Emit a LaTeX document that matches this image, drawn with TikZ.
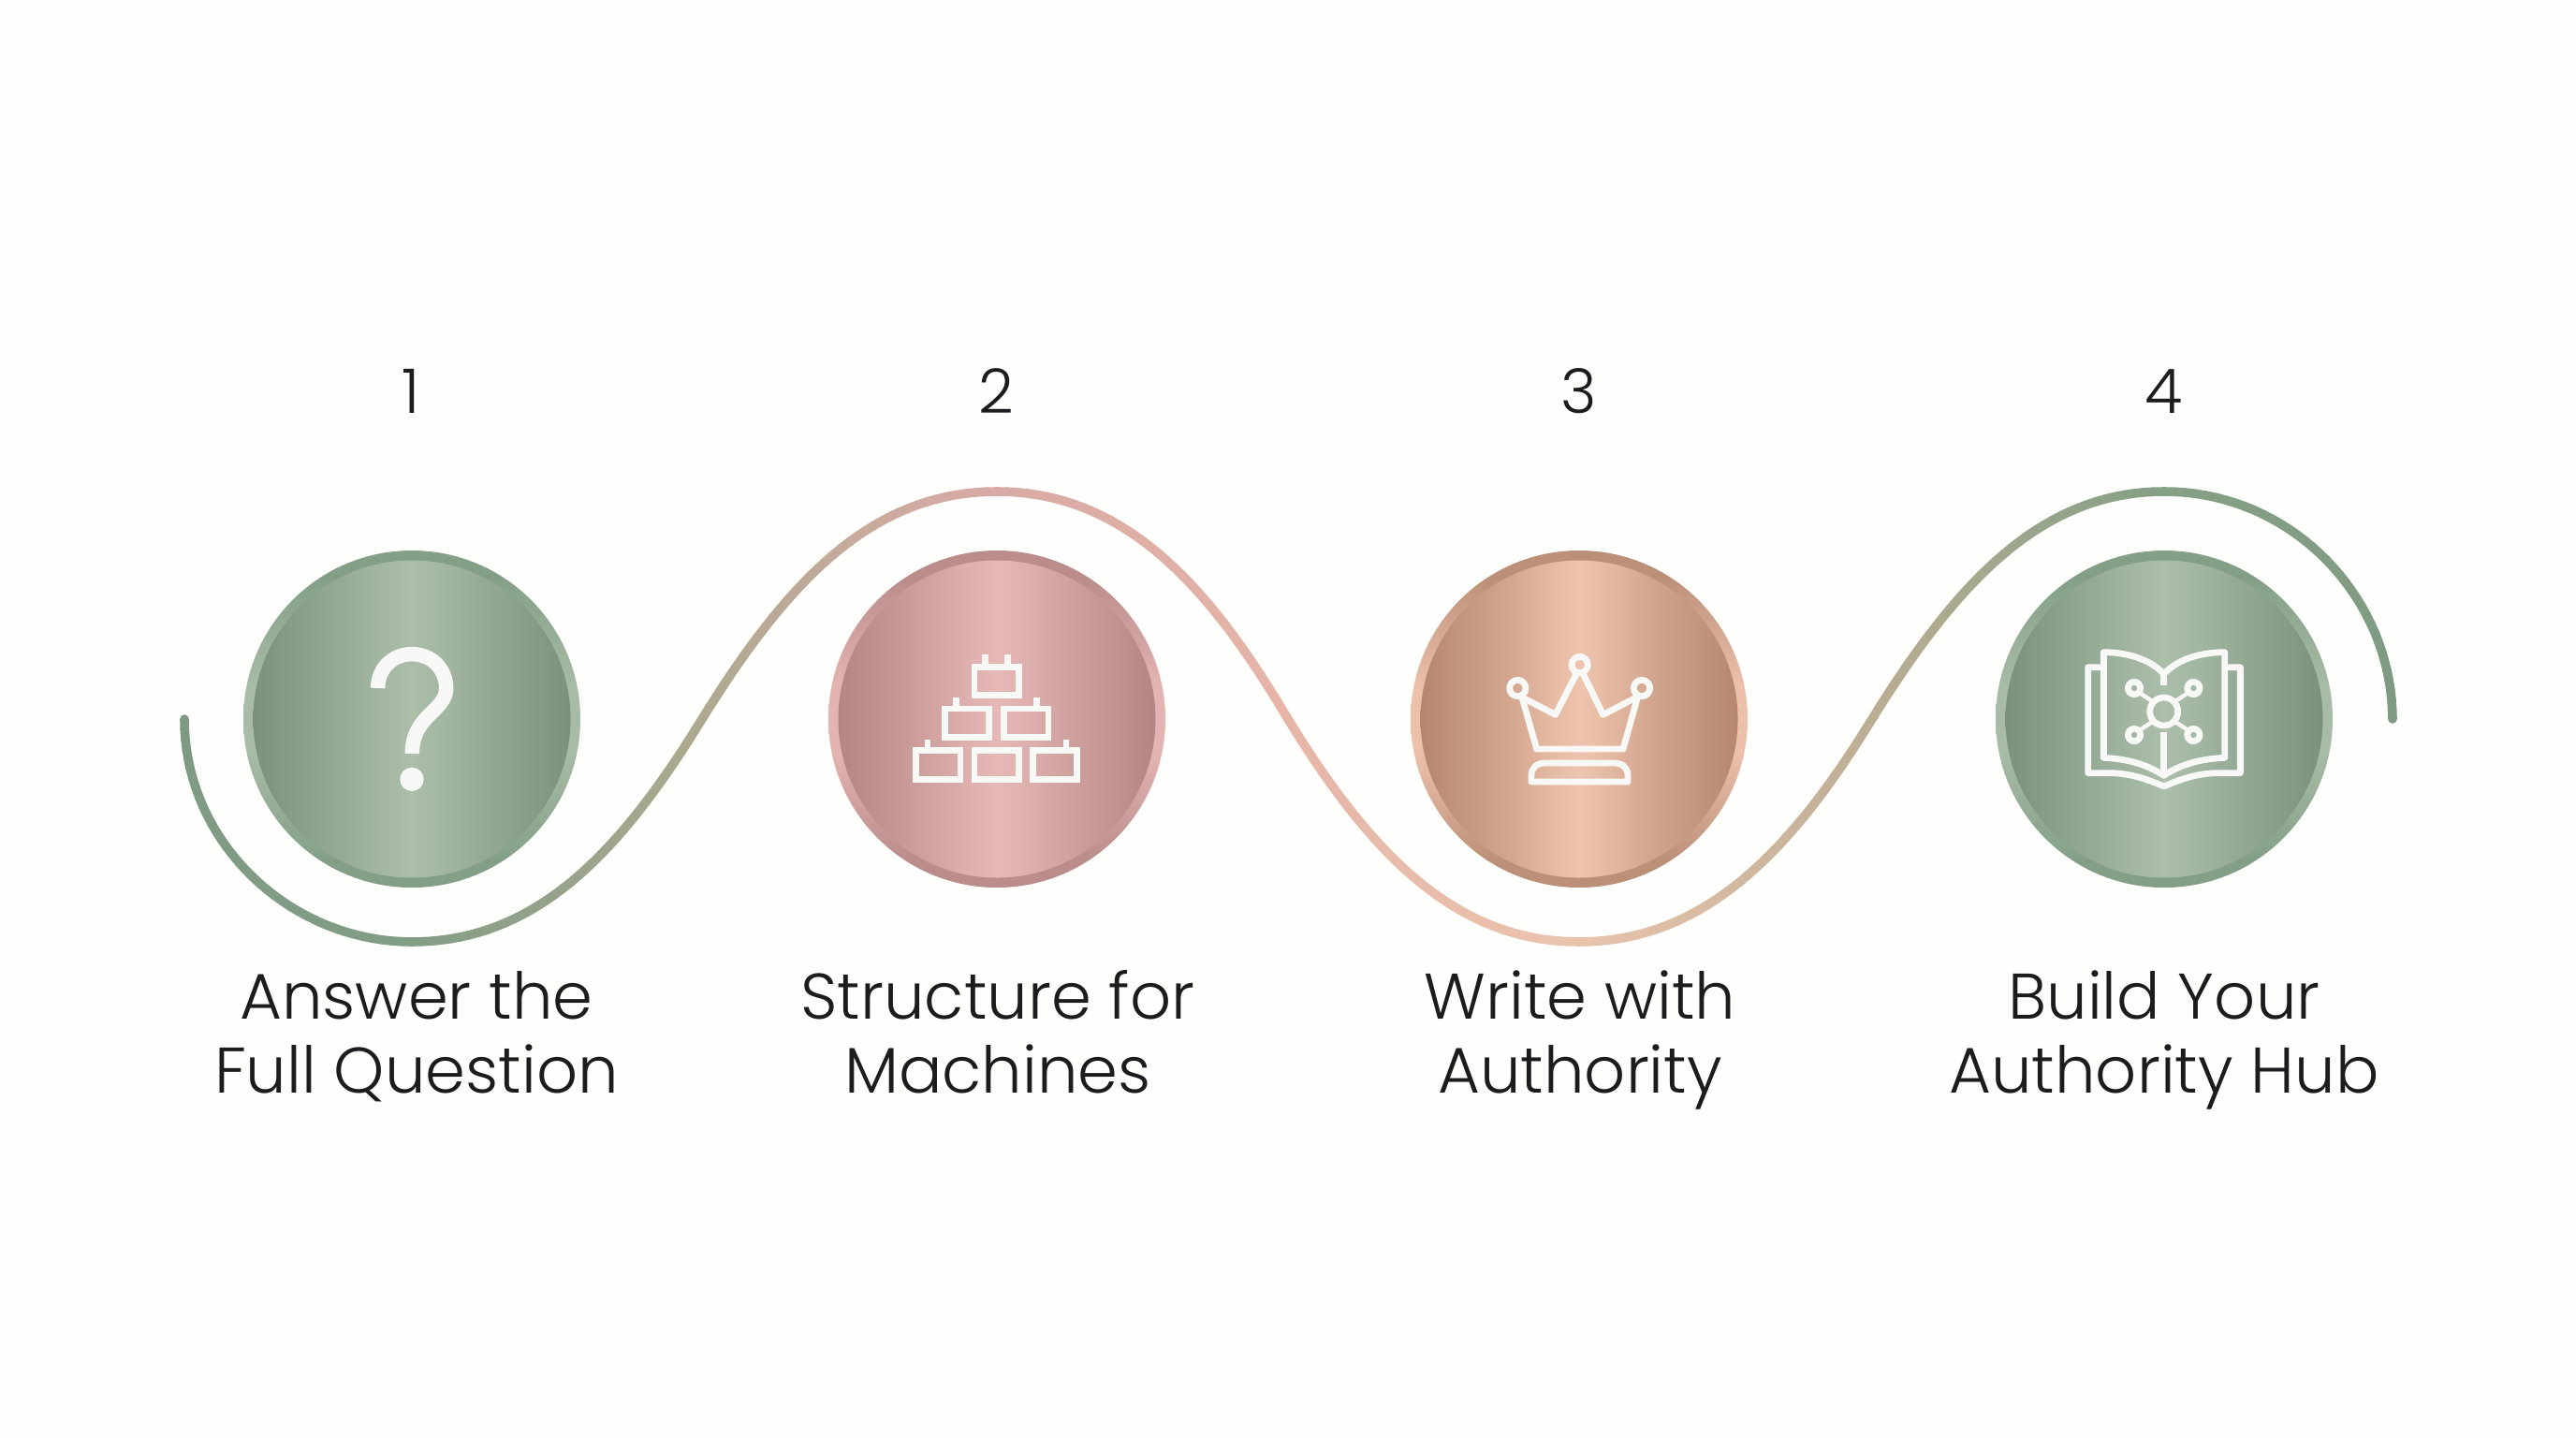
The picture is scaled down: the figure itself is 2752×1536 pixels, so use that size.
\documentclass[tikz,border=0pt]{standalone}
\usepackage{fontspec}
\setmainfont{Poppins}[UprightFont=* Light]
\definecolor{bgpaper}{HTML}{FEFEFC}
\definecolor{inkc}{HTML}{1C1C1E}
\definecolor{iconw}{HTML}{F8F8F6}
\newcommand\defmetal[6]{%
  \definecolor{#1E}{HTML}{#2}\definecolor{#1M}{HTML}{#3}\definecolor{#1C}{HTML}{#4}%
  \definecolor{#1D}{HTML}{#5}\definecolor{#1L}{HTML}{#6}%
  \pgfdeclarehorizontalshading{#1Body}{100bp}{color(0bp)=(#1E); color(25bp)=(#1E); color(39bp)=(#1M); color(46bp)=(#1C!70!#1M); color(50bp)=(#1C); color(54bp)=(#1C!70!#1M); color(61bp)=(#1M); color(75bp)=(#1E); color(100bp)=(#1E)}%
  \pgfdeclareverticalshading{#1Ring}{100bp}{color(0bp)=(#1D); color(29bp)=(#1D); color(45bp)=(#1L); color(55bp)=(#1L); color(71bp)=(#1D); color(100bp)=(#1D)}%
}
\defmetal{sagem}{7A927C}{96AB96}{AABEA9}{83A086}{A7BBA6}
\defmetal{pinkm}{B58583}{CFA19F}{E6B8B5}{BA8C8A}{E3B4B1}
\defmetal{peachm}{B5876F}{D3A68F}{EEC4AE}{BC8F79}{ECC1AB}
\definecolor{wa}{HTML}{7E9A82}
\definecolor{wb}{HTML}{829D86}
\definecolor{wc}{HTML}{ADA98F}
\definecolor{wd}{HTML}{D8AAA5}
\definecolor{we}{HTML}{E6B5A8}
\definecolor{wf}{HTML}{EAC3AD}
\definecolor{wg}{HTML}{BCAE94}
\definecolor{wh}{HTML}{85A085}
\def\pxu{0.02cm}
\newcommand\wavepiece[8]{%
  % #1-#8 are the four control points, colours are taken from \wcA \wcB
  \foreach \i in {1,...,36}{%
    \pgfmathsetmacro\ta{(\i-1)/36}\pgfmathsetmacro\tb{\i/36}%
    \pgfmathsetmacro\ua{1-\ta}\pgfmathsetmacro\ub{1-\tb}%
    \pgfmathsetmacro\xa{\ua*\ua*\ua*#1+3*\ua*\ua*\ta*#3+3*\ua*\ta*\ta*#5+\ta*\ta*\ta*#7}%
    \pgfmathsetmacro\ya{\ua*\ua*\ua*#2+3*\ua*\ua*\ta*#4+3*\ua*\ta*\ta*#6+\ta*\ta*\ta*#8}%
    \pgfmathsetmacro\xb{\ub*\ub*\ub*#1+3*\ub*\ub*\tb*#3+3*\ub*\tb*\tb*#5+\tb*\tb*\tb*#7}%
    \pgfmathsetmacro\yb{\ub*\ub*\ub*#2+3*\ub*\ub*\tb*#4+3*\ub*\tb*\tb*#6+\tb*\tb*\tb*#8}%
    \pgfmathsetmacro\pct{100*\ub}%
    \draw[wavestroke,color={\wcA!\pct!\wcB}] (\xa,\ya) -- (\xb,\yb);
  }%
}
\newcommand\brickrect[4]{\draw[iconline,line width=6.8*\pxu,line join=miter] (#1+10,#2+10) rectangle (#3-10,#4-10);}
\newcommand\bricktab[3]{\fill[iconw] (#1,#2) rectangle (#1+20,#3);}
\tikzset{
  wavestroke/.style={line width=9.6*\pxu,line cap=round},
  ringdisc/.style={circle,inner sep=0pt,minimum size=360*\pxu,shade},
  bodydisc/.style={circle,inner sep=0pt,minimum size=339*\pxu,shade},
  iconline/.style={draw=iconw,line width=6.8*\pxu,line join=round,line cap=round},
  numlabel/.style={text=inkc,font=\fontsize{37.4}{44.8}\selectfont,anchor=base},
  steplabel/.style={text=inkc,font=\fontsize{39.2}{44.8}\selectfont,align=center,anchor=base},
}
\begin{document}
\begin{tikzpicture}[x=0.02cm,y=-0.02cm]
\useasboundingbox (0,0) rectangle (2752,1536);
\fill[bgpaper] (0,0) rectangle (2752,1536);

% wave
\def\wcA{wa}\def\wcB{wb}\wavepiece{197}{768}{197}{900}{310}{1006}{440}{1006}
\def\wcA{wb}\def\wcB{wc}\wavepiece{440}{1006}{570}{1006}{660}{915}{750}{768}
\def\wcA{wc}\def\wcB{wd}\wavepiece{750}{768}{840}{623}{930}{525}{1065}{525}
\def\wcA{wd}\def\wcB{we}\wavepiece{1065}{525}{1200}{525}{1290}{623}{1376}{768}
\def\wcA{we}\def\wcB{wf}\wavepiece{1376}{768}{1466}{915}{1557}{1006}{1687}{1006}
\def\wcA{wf}\def\wcB{wg}\wavepiece{1687}{1006}{1817}{1006}{1910}{915}{2000}{768}
\def\wcA{wg}\def\wcB{wh}\wavepiece{2000}{768}{2090}{623}{2180}{525}{2312}{525}
\def\wcA{wh}\def\wcB{wa}\wavepiece{2312}{525}{2450}{525}{2556}{640}{2556}{768}

% discs
\node[ringdisc,shading=sagemRing] (r1) at (440,768) {};
\node[bodydisc,shading=sagemBody] (c1) at (440,768) {};
\node[ringdisc,shading=pinkmRing] (r2) at (1065,768) {};
\node[bodydisc,shading=pinkmBody] (c2) at (1065,768) {};
\node[ringdisc,shading=peachmRing] (r3) at (1687,768) {};
\node[bodydisc,shading=peachmBody] (c3) at (1687,768) {};
\node[ringdisc,shading=sagemRing] (r4) at (2312,768) {};
\node[bodydisc,shading=sagemBody] (c4) at (2312,768) {};

% numbers
\node[numlabel] (n1) at (439,441) {1};
\node[numlabel] (n2) at (1064,441) {2};
\node[numlabel] (n3) at (1687,441) {3};
\node[numlabel] (n4) at (2312,441) {4};

% labels
\node[steplabel] (t1) at (445,1167) {Answer the\\Full Question};
\node[steplabel] (t2) at (1066,1167) {Structure for\\Machines};
\node[steplabel] (t3) at (1688,1167) {Write with\\Authority};
\node[steplabel] (t4) at (2312,1167) {Build Your\\Authority Hub};

% icon 1: question mark
\begin{scope}[shift={(230,560)},scale=0.33333]
  \draw[iconw,line width=15.5*\pxu,line cap=butt]
    (521,525) .. controls (521,460) and (570,416) .. (630,416)
    .. controls (695,416) and (740,465) .. (740,525)
    .. controls (740,600) and (631,610) .. (631,735);
  \fill[iconw] (630,817) circle[radius=38];
\end{scope}

% icon 2: pyramid of bricks
\begin{scope}[shift={(860,570)},scale=0.33333]
  \brickrect{533}{417}{695}{527}
  \bricktab{567}{388}{417}\bricktab{640}{388}{417}
  \brickrect{438}{551}{600}{662}
  \bricktab{475}{525}{551}
  \brickrect{627}{551}{790}{662}
  \bricktab{733}{525}{551}
  \brickrect{346}{685}{508}{797}
  \bricktab{383}{660}{685}
  \brickrect{533}{685}{695}{797}
  \brickrect{720}{685}{882}{797}
  \bricktab{827}{660}{685}
\end{scope}

% icon 3: crown
\begin{scope}[shift={(1490,570)},scale=0.33333]
  \draw[iconline] (593,420) circle[radius=26];
  \draw[iconline] (394,495) circle[radius=26];
  \draw[iconline] (792,495) circle[radius=26];
  \draw[iconline] (408,525) -- (455,690) -- (732,690) -- (778,525);
  \draw[iconline] (415,528) -- (515,580) -- (582,450);
  \draw[iconline] (604,450) -- (668,580) -- (768,528);
  \draw[iconline] (438,795) -- (438,775) .. controls (438,750) and (455,735) .. (482,735)
    -- (703,735) .. controls (730,735) and (747,750) .. (747,775) -- (747,795) -- cycle;
\end{scope}

% icon 4: open book with network
\begin{scope}[shift={(2110,570)},scale=0.33333]
  \draw[iconline] (405,428) -- (362,428) -- (362,767) -- (430,767)
    .. controls (500,767) and (560,790) .. (605,810)
    .. controls (650,790) and (710,767) .. (780,767) -- (850,767) -- (850,428) -- (805,428);
  \draw[iconline] (412,380) .. controls (500,380) and (570,410) .. (605,450)
    .. controls (640,410) and (710,380) .. (800,380) -- (800,718)
    .. controls (710,722) and (650,745) .. (605,775)
    .. controls (560,745) and (500,722) .. (412,718) -- cycle;
  \draw[iconline,line cap=butt] (605,450) -- (605,487);
  \draw[iconline,line cap=butt] (605,635) -- (605,775);
  \draw[iconline] (605,570) circle[radius=45];
  \draw[iconline] (510,495) circle[radius=20];
  \draw[iconline] (700,495) circle[radius=20];
  \draw[iconline] (510,645) circle[radius=20];
  \draw[iconline] (700,645) circle[radius=20];
  \draw[iconline,line width=4.5*\pxu] (527,510) -- (570,538);
  \draw[iconline,line width=4.5*\pxu] (683,510) -- (640,538);
  \draw[iconline,line width=4.5*\pxu] (527,630) -- (570,602);
  \draw[iconline,line width=4.5*\pxu] (683,630) -- (640,602);
\end{scope}
\end{tikzpicture}
\end{document}
